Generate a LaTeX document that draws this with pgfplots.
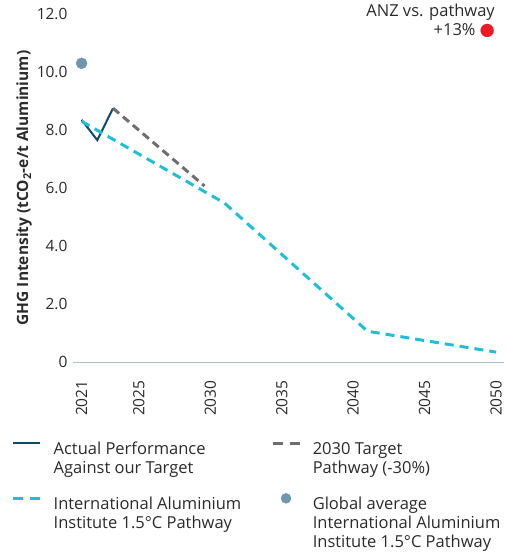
\documentclass[border=0pt]{standalone}
\usepackage{pgfplots}
\pgfplotsset{compat=1.18}
\usetikzlibrary{calc}
\usepackage{fontspec}
\setmainfont{Open Sans}
\newfontfamily\dejavu{DejaVu Sans}
\definecolor{actual}{HTML}{0E4A6C}
\definecolor{target}{HTML}{6D6E71}
\definecolor{iai}{HTML}{1EC0D8}
\definecolor{glob}{HTML}{6F97B0}
\definecolor{anzred}{HTML}{ED1C24}
\definecolor{axisc}{HTML}{A9BFD3}
\definecolor{txt}{HTML}{2B2B2B}
\newcommand{\lglines}[1]{\vtop{\baselineskip=19bp\lineskiplimit=0pt\lineskip=0pt #1}}
\newcommand{\lgl}[1]{\hbox{\strut #1}}
\begin{document}
\begin{tikzpicture}[font=\fontsize{16.5bp}{19bp}\selectfont, text=txt]
\begin{axis}[
  name=ax,
  scale only axis,
  width=431bp, height=348bp,
  xmin=2020.4, xmax=2050.55,
  ymin=0, ymax=12,
  clip=false,
  axis x line*=bottom, axis y line*=left,
  y axis line style={draw=none},
  x axis line style={color=axisc, line width=1bp, -},
  major tick length=0pt,
  xtick={2021,2025,2030,2035,2040,2045,2050},
  xticklabels={2021,2025,2030,2035,2040,2045,2050},
  xticklabel style={rotate=90, anchor=east, text=txt, font=\fontsize{15.5bp}{18bp}\selectfont},
  xticklabel shift=15bp,
  ytick={0,2,4,6,8,10,12},
  yticklabels={0,2.0,4.0,6.0,8.0,10.0,12.0},
  yticklabel style={text=txt, font=\fontsize{15.5bp}{18bp}\selectfont},
  yticklabel shift=2bp,
  ylabel={\bfseries GHG Intensity (tCO\textsubscript{2}-e/t Aluminium)},
  ylabel style={text=txt, yshift=-2bp, font=\fontsize{15.5bp}{18bp}\selectfont},
  legend columns=2,
  legend style={draw=none, fill=none, at={(-0.1485,-0.216)}, anchor=north west,
    /tikz/every even column/.append style={column sep=28bp},
    /tikz/every odd column/.append style={column sep=10bp},
    row sep=35bp},
  legend cell align=left,
  legend style={nodes={text=txt}},
]
\addplot[actual, line width=2bp, legend image code/.code={\draw[actual, line width=2bp] (0bp,5.5bp) -- (27bp,5.5bp);}]
  coordinates {(2021,8.35) (2022.1,7.65) (2023.2,8.75)};
\addlegendentry{\lglines{\lgl{Actual Performance}\lgl{Against our Target}}}
\addplot[target, line width=3bp, dash pattern=on 8bp off 5bp, legend image code/.code={\draw[target, line width=2.5bp, dash pattern=on 10bp off 7bp] (0bp,5.5bp) -- (27bp,5.5bp);}]
  coordinates {(2023.2,8.75) (2029.6,6.07)};
\addlegendentry{\lglines{\lgl{2030 Target}\lgl{Pathway (-30\%)}}}
\addplot[iai, line width=3bp, dash pattern=on 9bp off 6bp, legend image code/.code={\draw[iai, line width=2.5bp, dash pattern=on 10bp off 7bp] (0bp,5.5bp) -- (27bp,5.5bp);}]
  coordinates {(2021,8.3) (2031,5.48) (2041,1.06) (2050,0.34)};
\addlegendentry{\lglines{\lgl{International Aluminium}\lgl{Institute 1.5°C Pathway}}}
\addplot[only marks, mark=*, mark size=5.5bp, mark options={fill=glob, draw=glob}, legend image code/.code={\fill[glob] (13.5bp,5.5bp) circle (5bp);}]
  coordinates {(2021,10.3)};
\addlegendentry{\lglines{\lgl{Global average}\lgl{International Aluminium}\lgl{Institute 1.5°C Pathway}}}
\node[anchor=north east, align=right, inner sep=0pt] at ([xshift=-9bp,yshift=10bp]rel axis cs:1,1)
  {ANZ vs. pathway\\+13\%\hspace{4bp}{\fontsize{17.5bp}{17bp}\selectfont\dejavu\textcolor{anzred}{●}}};
\end{axis}
\pgfresetboundingbox
\path ($(ax.south west)+(-73bp,-196bp)$) rectangle ($(ax.north east)+(1bp,14bp)$);
\end{tikzpicture}
\end{document}
